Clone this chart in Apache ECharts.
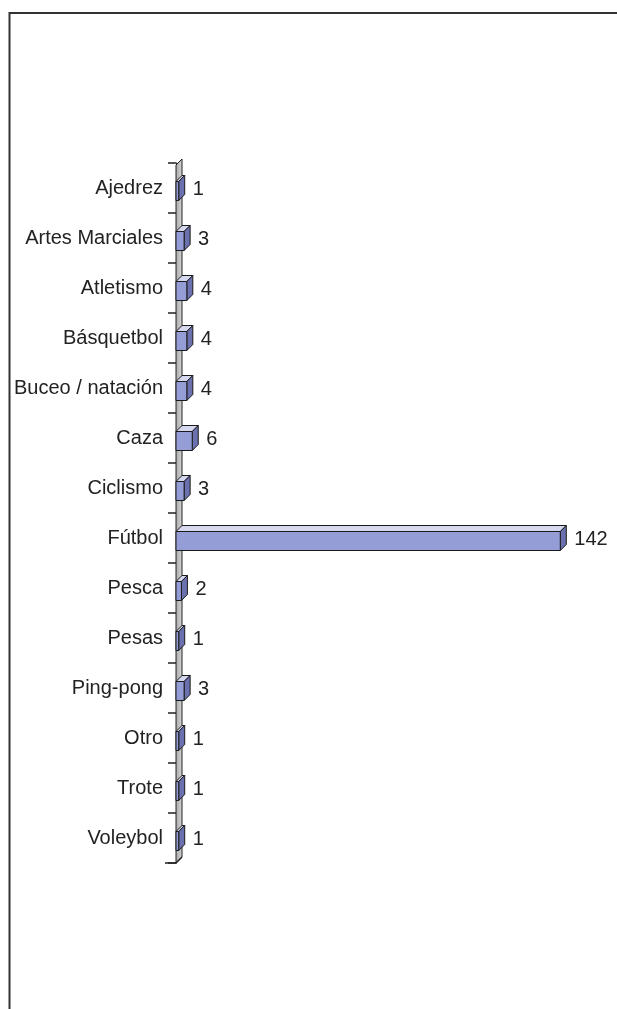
<!DOCTYPE html>
<html>
<head>
<meta charset="utf-8">
<script src="https://cdn.jsdelivr.net/npm/echarts@6/dist/echarts.min.js"></script>
<style>
  html, body { margin: 0; padding: 0; background: #fff; }
  #demo1 { width: 617px; height: 1009px; }
</style>
</head>
<body>
<div id="demo1"></div>
<script>
var categories = ['Ajedrez', 'Artes Marciales', 'Atletismo', 'Básquetbol', 'Buceo / natación', 'Caza', 'Ciclismo',
  'Fútbol', 'Pesca', 'Pesas', 'Ping-pong', 'Otro', 'Trote', 'Voleybol'];
var values = [1, 3, 4, 4, 4, 6, 3, 142, 2, 1, 3, 1, 1, 1];

var depth = 6;
var font = '"Liberation Sans", Arial, sans-serif';

var barchart = echarts.init(document.getElementById('demo1'));
barchart.setOption({
  animation: false,
  backgroundColor: '#fff',
  graphic: [
    {
      type: 'polyline',
      shape: { points: [[9.5, 1009], [9.5, 13], [617, 13]] },
      style: { stroke: '#333', lineWidth: 2, fill: null }
    }
  ],
  grid: {
    left: 176,
    right: 8,
    top: 163,
    bottom: 146
  },
  xAxis: {
    type: 'value',
    min: 0,
    max: 160,
    show: false
  },
  yAxis: {
    type: 'category',
    data: categories,
    inverse: true,
    axisLine: {
      show: true,
      lineStyle: { color: '#222', width: 1 }
    },
    axisTick: {
      show: true,
      length: 8,
      lineStyle: { color: '#222', width: 1.5 }
    },
    axisLabel: {
      margin: 13,
      fontSize: 20,
      fontFamily: font,
      color: '#222'
    },
    splitLine: { show: false }
  },
  series: [
    {
      // back wall
      type: 'custom',
      silent: true,
      data: [[0, 0]],
      renderItem: function (params, api) {
        var cs = params.coordSys;
        var x = cs.x, y = cs.y, h = cs.height;
        return {
          type: 'group',
          children: [
            {
              type: 'polygon',
              shape: { points: [[x, y + 2], [x + depth, y - 4], [x + depth, y + h - depth], [x, y + h]] },
              style: {
                fill: new echarts.graphic.LinearGradient(0, 0, 1, 0, [
                  { offset: 0, color: '#a9a9a9' },
                  { offset: 1, color: '#d6d6d6' }
                ]),
                stroke: '#222',
                lineWidth: 1
              }
            },
            {
              type: 'polyline',
              shape: { points: [[x - 11, y + h], [x, y + h], [x + depth, y + h - depth]] },
              style: { stroke: '#222', lineWidth: 1.5, fill: null }
            }
          ]
        };
      }
    },
    {
      type: 'custom',
      data: values.map(function (v, i) { return [v, i]; }),
      encode: { x: 0, y: 1 },
      renderItem: function (params, api) {
        var v = api.value(0);
        var cat = api.value(1);
        var end = api.coord([v, cat]);
        var start = api.coord([0, cat]);
        var band = api.size([0, 1])[1];
        var h = band * 0.38;
        var y0 = end[1] - h / 2 + 3;
        var x0 = start[0], x1 = end[0];
        var line = { stroke: '#1a1a1a', lineWidth: 1 };
        return {
          type: 'group',
          children: [
            {
              type: 'polygon',
              shape: { points: [[x0, y0], [x0 + depth, y0 - depth], [x1 + depth, y0 - depth], [x1, y0]] },
              style: Object.assign({ fill: '#d5d8ef' }, line)
            },
            {
              type: 'polygon',
              shape: { points: [[x1, y0], [x1 + depth, y0 - depth], [x1 + depth, y0 + h - depth], [x1, y0 + h]] },
              style: Object.assign({ fill: '#6a71ae' }, line)
            },
            {
              type: 'rect',
              shape: { x: x0, y: y0, width: x1 - x0, height: h },
              style: Object.assign({ fill: '#959dd6' }, line)
            },
            {
              type: 'text',
              style: {
                x: x1 + depth + 8,
                y: end[1] + 1,
                text: String(v),
                fill: '#222',
                font: '20px ' + font,
                verticalAlign: 'middle'
              }
            }
          ]
        };
      }
    }
  ]
});
</script>
</body>
</html>
